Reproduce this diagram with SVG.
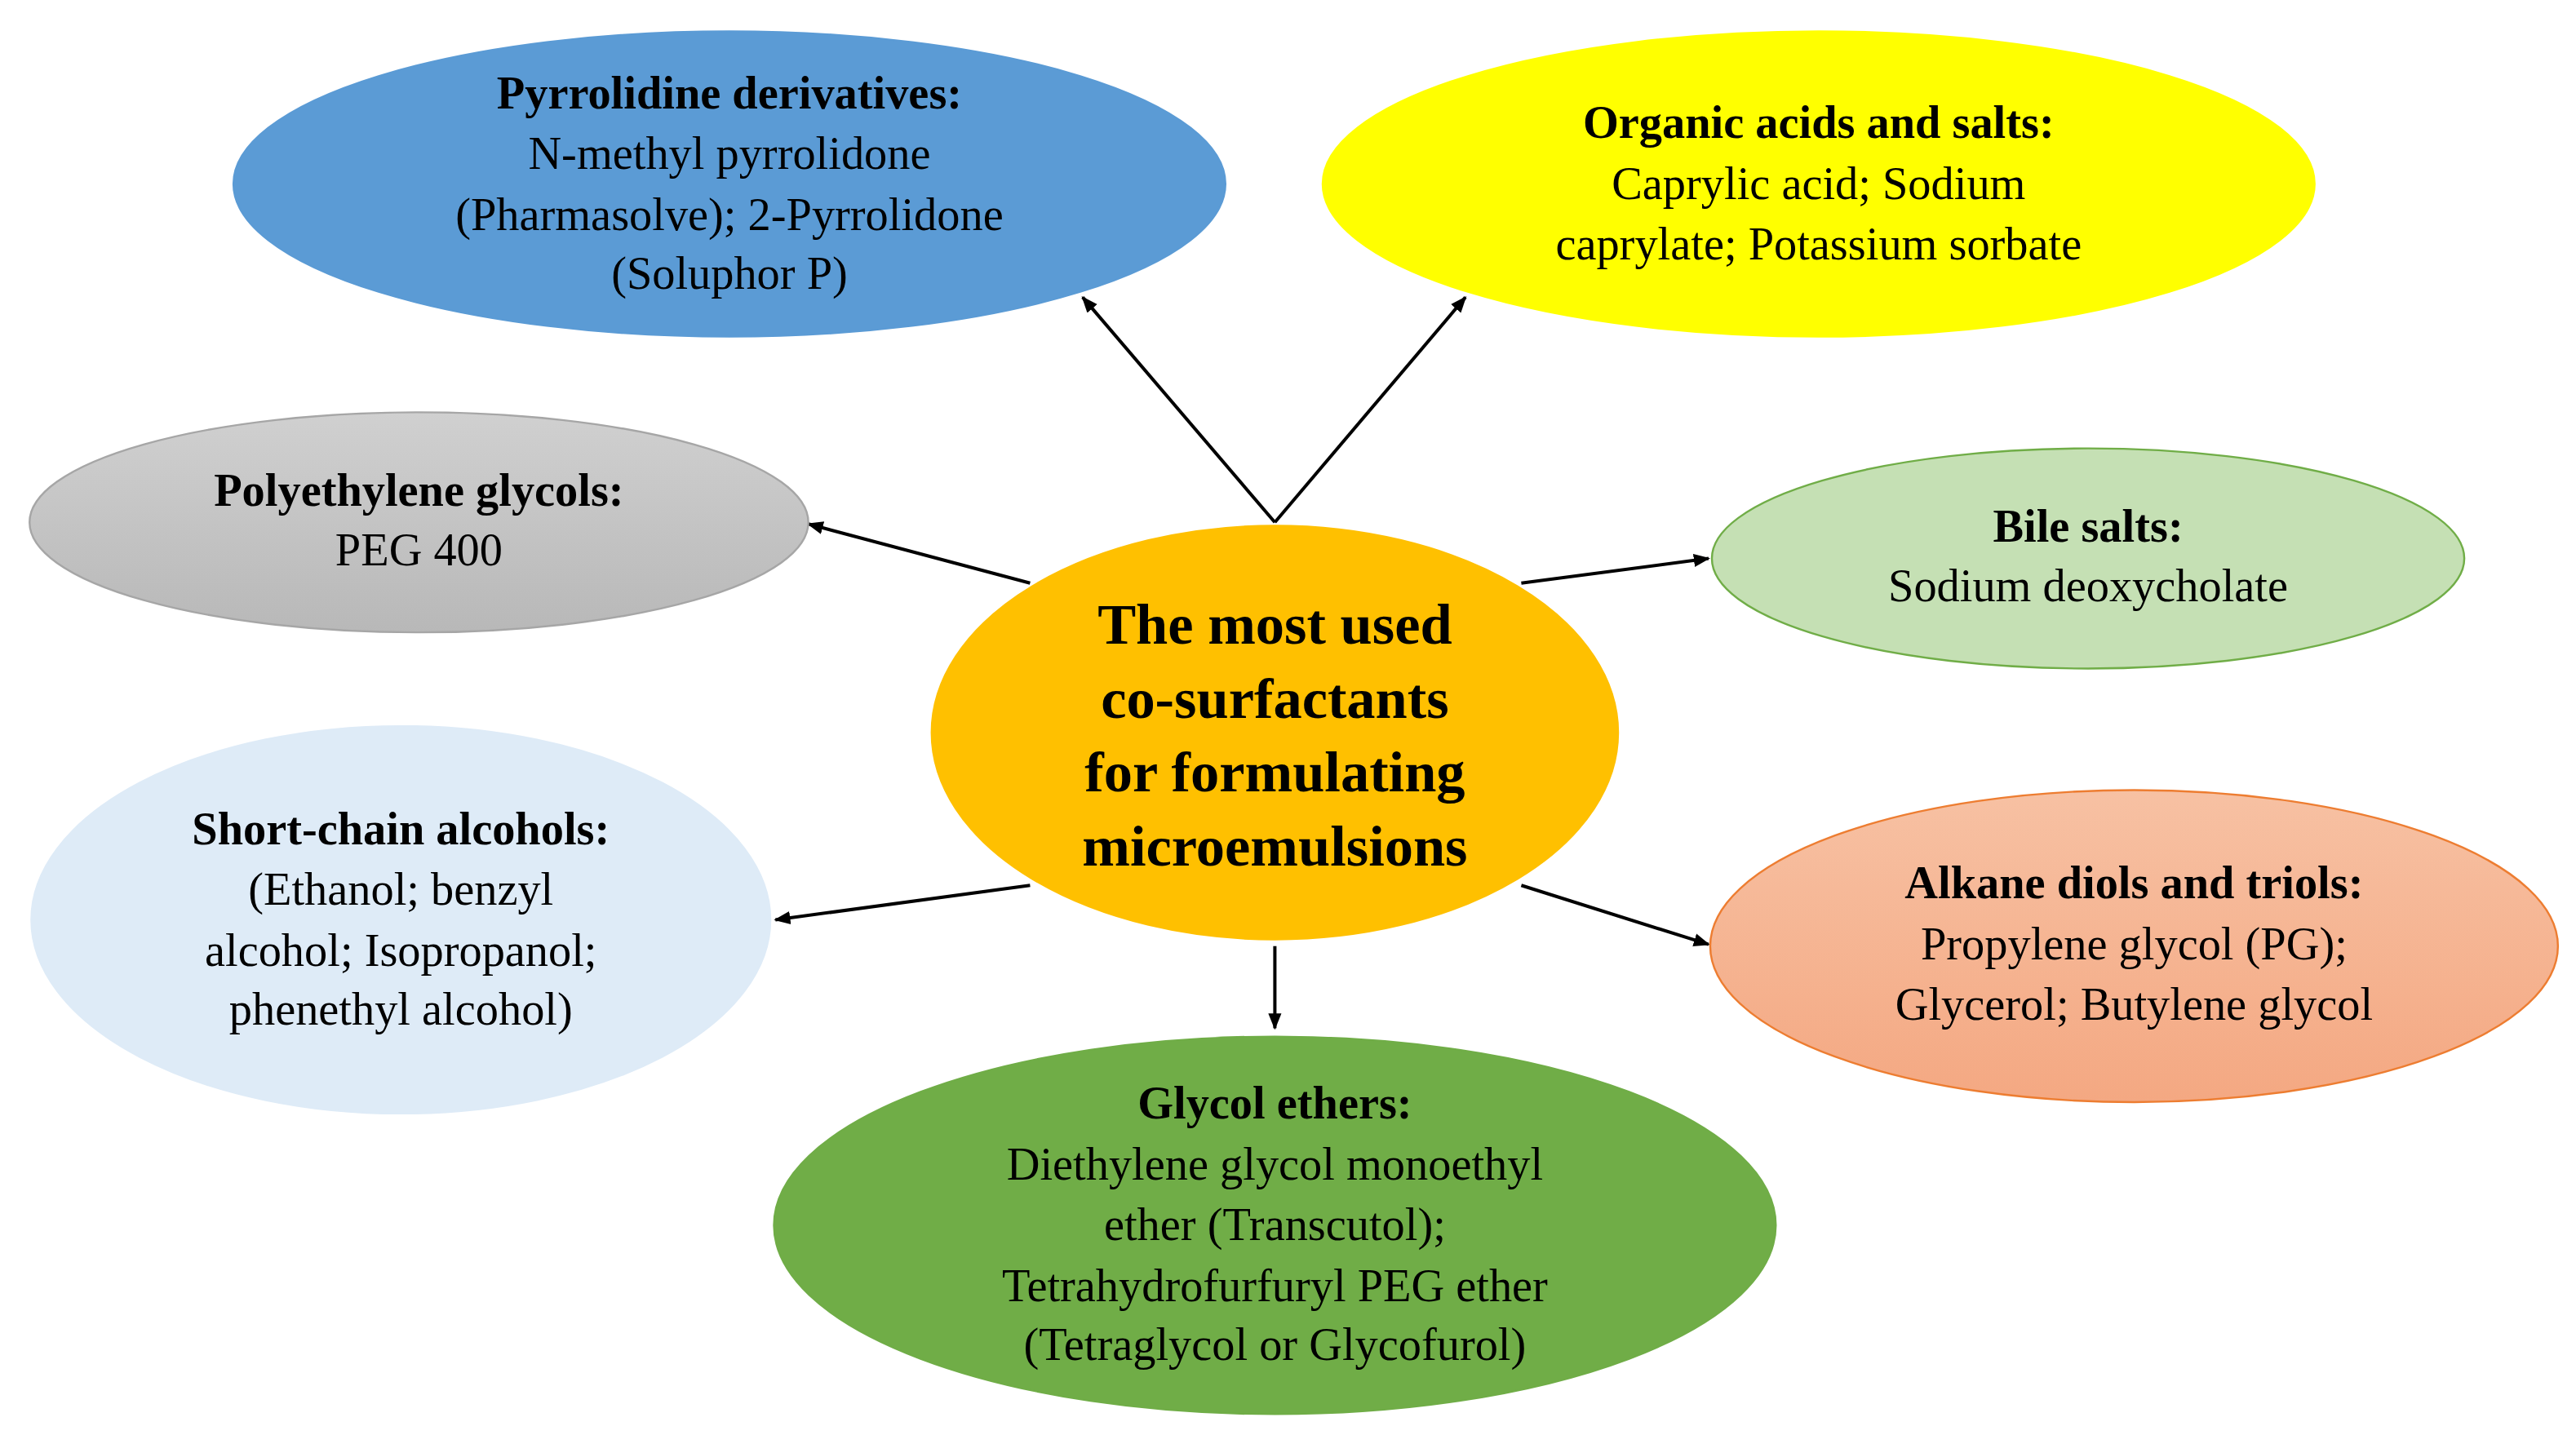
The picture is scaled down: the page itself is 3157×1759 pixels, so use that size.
<svg xmlns="http://www.w3.org/2000/svg" width="3157" height="1759" viewBox="0 0 3157 1759">
<style>
text{font-family:"Liberation Serif",serif;font-size:28px;fill:#000;text-anchor:middle}
.b{font-weight:bold}
.c{font-weight:bold;font-size:35px}
.e{stroke-width:1.2}
</style>
<defs>
<marker id="a" markerWidth="10" markerHeight="10" refX="9" refY="5" orient="auto" markerUnits="userSpaceOnUse"><path d="M0,1 L10,5 L0,9 Z" fill="#000"/></marker>
<linearGradient id="g1" x1="0" y1="0" x2="0" y2="1"><stop offset="0" stop-color="#d0d0d0"/><stop offset="1" stop-color="#b8b8b8"/></linearGradient>
<linearGradient id="g2" x1="0" y1="0" x2="0" y2="1"><stop offset="0" stop-color="#f7c1a3"/><stop offset="1" stop-color="#f4a882"/></linearGradient>
</defs>
<rect width="3157" height="1759" fill="#fff"/>
<g transform="scale(2.0134)">
<g id="connectors" stroke="#000" stroke-width="2" fill="none">
<line x1="776" y1="318" x2="659" y2="181" marker-end="url(#a)"/>
<line x1="776" y1="318" x2="892" y2="181" marker-end="url(#a)"/>
<line x1="627" y1="355" x2="492" y2="319" marker-end="url(#a)"/>
<line x1="926" y1="355" x2="1040" y2="340" marker-end="url(#a)"/>
<line x1="627" y1="539" x2="472" y2="560" marker-end="url(#a)"/>
<line x1="926" y1="539" x2="1040" y2="575" marker-end="url(#a)"/>
<line x1="776" y1="576" x2="776" y2="626" marker-end="url(#a)"/>
</g>
<g id="pyrrolidine"><ellipse cx="444" cy="112" rx="302" ry="93" fill="#5b9bd5" stroke="#5b9bd5"/>
<text x="444" y="66" class="b">Pyrrolidine derivatives:</text><text x="444" y="103">N-methyl pyrrolidone</text><text x="444" y="140">(Pharmasolve); 2-Pyrrolidone</text><text x="444" y="176">(Soluphor P)</text></g>
<g id="organic"><ellipse cx="1107" cy="112" rx="302" ry="93" fill="#ffff00" stroke="#ffff00"/>
<text x="1107" y="84" class="b">Organic acids and salts:</text><text x="1107" y="121">Caprylic acid; Sodium</text><text x="1107" y="158">caprylate; Potassium sorbate</text></g>
<g id="peg"><ellipse cx="255" cy="318" rx="237" ry="67" fill="url(#g1)" stroke="#a6a6a6" class="e"/>
<text x="255" y="308" class="b">Polyethylene glycols:</text><text x="255" y="344">PEG 400</text></g>
<g id="bile"><ellipse cx="1271" cy="340" rx="229" ry="67" fill="#c5e0b4" stroke="#70ad47" class="e"/>
<text x="1271" y="330" class="b">Bile salts:</text><text x="1271" y="366">Sodium deoxycholate</text></g>
<g id="center"><ellipse cx="776" cy="446" rx="209" ry="126" fill="#ffc000" stroke="#ffc000"/>
<text x="776" y="392" class="c">The most used</text><text x="776" y="437" class="c">co-surfactants</text><text x="776" y="482" class="c">for formulating</text><text x="776" y="527" class="c">microemulsions</text></g>
<g id="short"><ellipse cx="244" cy="560" rx="225" ry="118" fill="#deebf7" stroke="#deebf7"/>
<text x="244" y="514" class="b">Short-chain alcohols:</text><text x="244" y="551">(Ethanol; benzyl</text><text x="244" y="588">alcohol; Isopropanol;</text><text x="244" y="624">phenethyl alcohol)</text></g>
<g id="alkane"><ellipse cx="1299" cy="576" rx="258" ry="95" fill="url(#g2)" stroke="#ed7d31" class="e"/>
<text x="1299" y="547" class="b">Alkane diols and triols:</text><text x="1299" y="584">Propylene glycol (PG);</text><text x="1299" y="621">Glycerol; Butylene glycol</text></g>
<g id="glycol"><ellipse cx="776" cy="746" rx="305" ry="115" fill="#70ad47" stroke="#70ad47"/>
<text x="776" y="681" class="b">Glycol ethers:</text><text x="776" y="718">Diethylene glycol monoethyl</text><text x="776" y="755">ether (Transcutol);</text><text x="776" y="792">Tetrahydrofurfuryl PEG ether</text><text x="776" y="828">(Tetraglycol or Glycofurol)</text></g>
</g>
</svg>
